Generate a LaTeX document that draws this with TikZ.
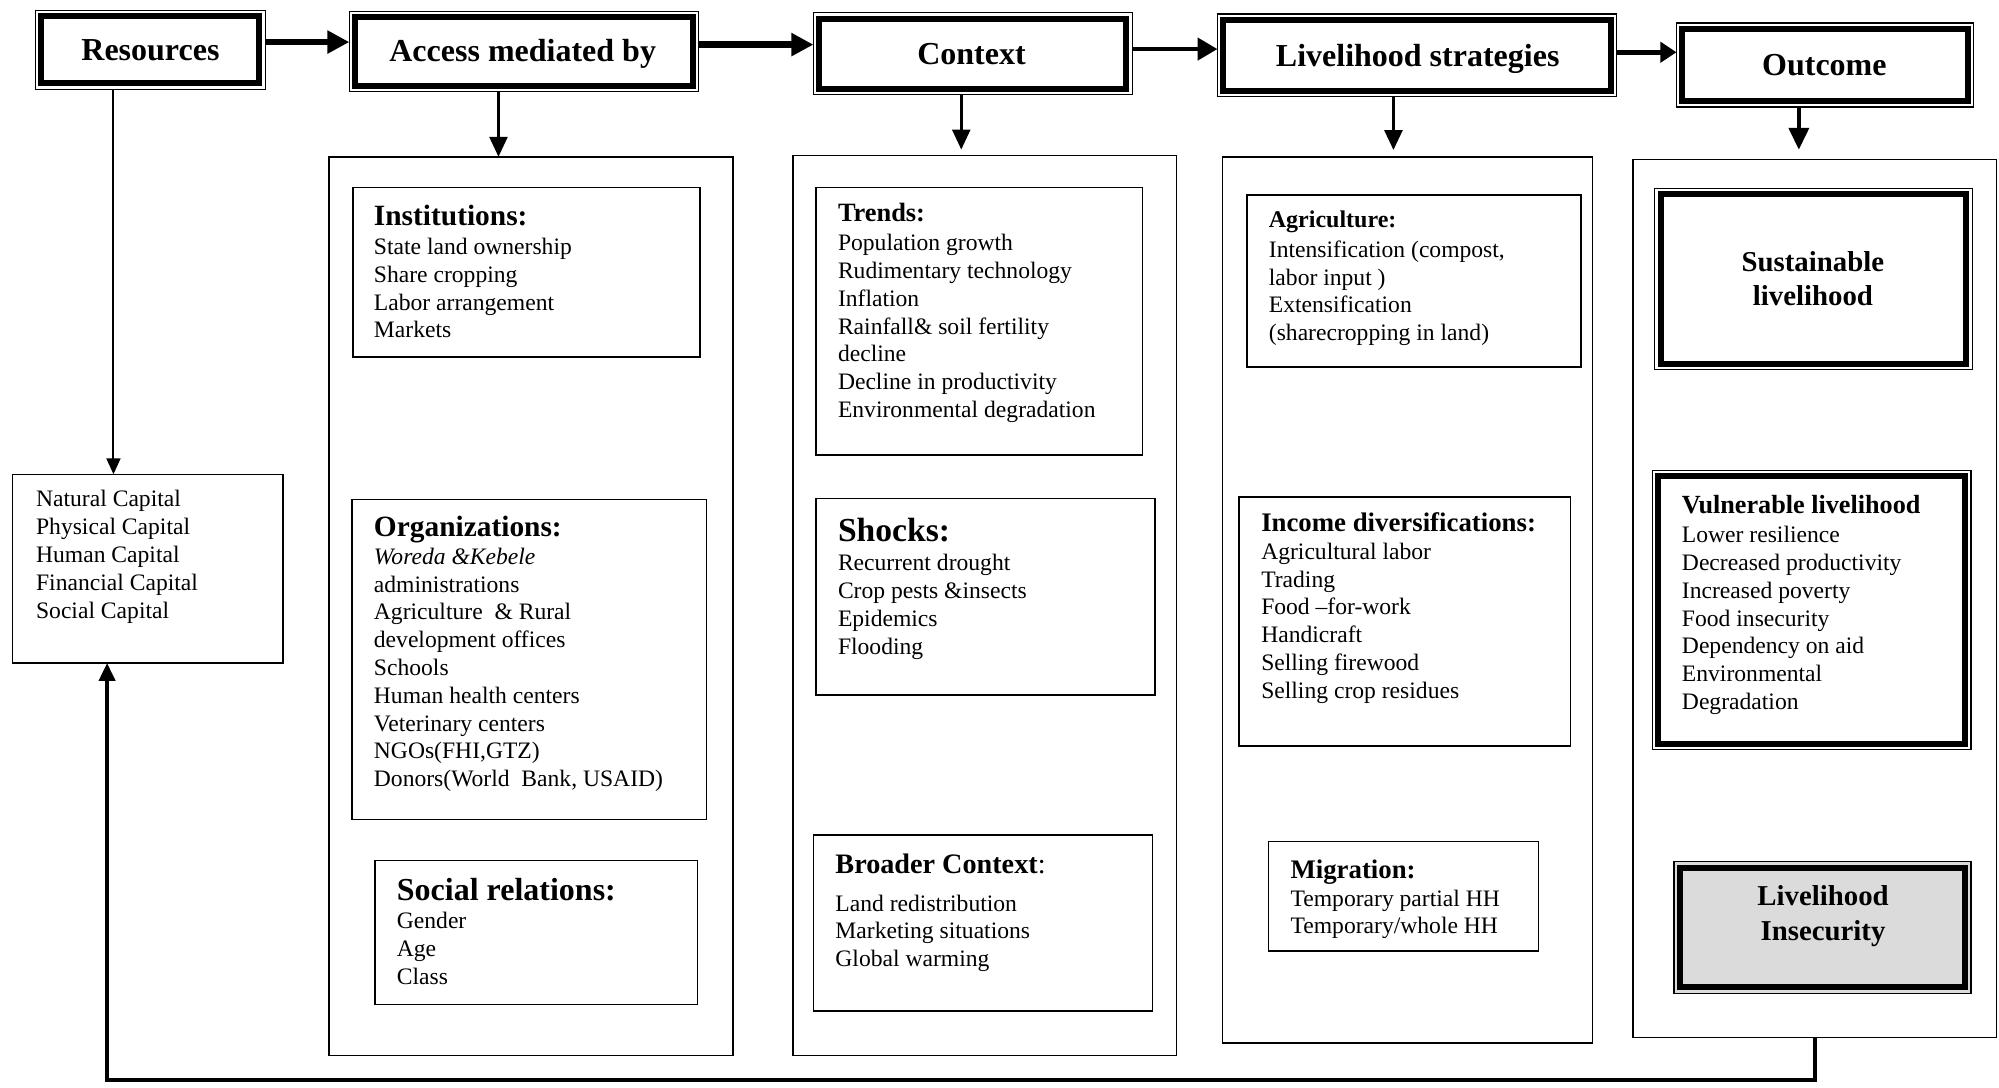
\documentclass[tikz,border=0pt]{standalone}
\usepackage{fontspec}
\setmainfont{Liberation Serif}
\usetikzlibrary{arrows.meta,fit,calc}
\newcommand\bodyfont{\fontsize{11.8}{13.9}\selectfont}
\begin{document}
\begin{tikzpicture}[x=0.63745pt,y=-0.63745pt,
 box/.style={draw, line width=0.7pt, inner sep=0pt, outer sep=0pt},
 dbl/.style={draw, line width=0.6pt, inner sep=0pt, outer sep=0pt,
   path picture={\draw[line width=3pt] ([shift={(2.9pt,-2.9pt)}]path picture bounding box.north west) rectangle ([shift={(-2.9pt,2.9pt)}]path picture bounding box.south east);}},
 hdrtext/.style={anchor=base, inner sep=0pt, font=\fontsize{16}{19}\selectfont\bfseries},
 ttl/.style={anchor=base west, inner sep=0pt, font=\fontsize{#1}{#1}\selectfont\bfseries},
 body/.style={anchor=north west, inner sep=0pt, align=left, font=\bodyfont},
 ctr/.style={inner sep=0pt, align=center, font=\fontsize{14.4}{17.2}\selectfont\bfseries},
 hbig/.style={-{Triangle[length=11pt,width=11pt]}, line width=3.2pt},
 hmid/.style={-{Triangle[length=10pt,width=11pt]}, line width=2.3pt},
 hsm/.style={-{Triangle[length=8pt,width=10pt]}, line width=2.5pt},
 downarr/.style={-{Triangle[length=10pt,width=9pt]}, line width=1.3pt},
 thinarr/.style={-{Triangle[length=8pt,width=7pt]}, line width=1pt},
 fb/.style={-{Triangle[length=9pt,width=8pt]}, line width=2pt, line join=miter}
]
\fill[white] (0,0) rectangle (1568,853);
\useasboundingbox (0,0) rectangle (1568,853);

% header boxes
\node[dbl, fit={(28,8) (208,70)}] (res) {};
\node[dbl, fit={(274,9) (548,72)}] (acc) {};
\node[dbl, fit={(638,10) (888,74)}] (ctx) {};
\node[dbl, fit={(955,11) (1268,76)}] (ls) {};
\node[dbl, fit={(1315,18) (1548,84)}] (out) {};
\node[hdrtext] (resT) at (118,47.5) {Resources};
\node[hdrtext] (accT) at (410,48.5) {Access mediated by};
\node[hdrtext] (ctxT) at (762,50.5) {Context};
\node[hdrtext] (lsT) at (1112,52.5) {Livelihood strategies};
\node[hdrtext] (outT) at (1431,59.5) {Outcome};

% column containers
\node[box, fit={(258,123) (575,828)}] (colA) {};
\node[box, fit={(622,122) (923,828)}] (colC) {};
\node[box, fit={(959,123) (1249,818)}] (colL) {};
\node[box, fit={(1281,125) (1566,814)}] (colO) {};
\node[box, fit={(10,372) (222,520)}] (cap) {};

% inner boxes
\node[box, fit={(277,147) (549,280)}] (inst) {};
\node[box, fit={(276,392) (554,643)}] (org) {};
\node[box, fit={(294,675) (547,788)}] (soc) {};
\node[box, fit={(640,147) (896,357)}] (trend) {};
\node[box, fit={(640,391) (906,545)}] (shock) {};
\node[box, fit={(638,655) (904,793)}] (broad) {};
\node[box, fit={(978,153) (1240,288)}] (agri) {};
\node[box, fit={(972,390) (1232,585)}] (inc) {};
\node[box, fit={(995,660) (1207,746)}] (mig) {};
\node[dbl, fit={(1298,148) (1547,290)}] (sust) {};
\node[dbl, fit={(1296,369) (1546,588)}] (vuln) {};
\node[dbl, fill=black!14, fit={(1313,676) (1546,779)}] (insec) {};

% texts
\node[body] (capT) at (28,384.5) {Natural Capital\\Physical Capital\\Human Capital\\Financial Capital\\Social Capital};

\node[ttl=14.7] (instH) at (293,176.8) {Institutions:};
\node[body] (instT) at (293,186.5) {State land ownership\\Share cropping\\Labor arrangement\\Markets};

\node[ttl=14.7] (orgH) at (293,420.8) {Organizations:};
\node[body] (orgT) at (293,429.5) {\textit{Woreda \&Kebele}\\administrations\\Agriculture\ \ \& Rural\\development offices\\Schools\\Human health centers\\Veterinary centers\\NGOs(FHI,GTZ)\\Donors(World\ \ Bank, USAID)};

\node[ttl=16] (socH) at (311,706.5) {Social relations:};
\node[body] (socT) at (311,715.5) {Gender\\Age\\Class};

\node[ttl=13.2] (trendH) at (657,174) {Trends:};
\node[body] (trendT) at (657,183.5) {Population growth\\Rudimentary technology\\Inflation\\Rainfall\& soil fertility\\decline\\Decline in productivity\\Environmental degradation};

\node[ttl=16.8] (shockH) at (657,424.9) {Shocks:};
\node[body] (shockT) at (657,434.5) {Recurrent drought\\Crop pests \&insects\\Epidemics\\Flooding};

\node[ttl=14.1] (broadH) at (655,685.5) {Broader Context\textmd{:}};
\node[body] (broadT) at (655,701.5) {Land redistribution\\Marketing situations\\Global warming};

\node[ttl=12] (agriH) at (995,178.4) {Agriculture:};
\node[body] (agriT) at (995,188.5) {Intensification (compost,\\labor input )\\Extensification\\(sharecropping in land)};

\node[ttl=13.4] (incH) at (989,417.1) {Income diversifications:};
\node[body] (incT) at (989,425.5) {Agricultural labor\\Trading\\Food –for-work\\Handicraft\\Selling firewood\\Selling crop residues};

\node[ttl=13.4] (migH) at (1012,689.1) {Migration:};
\node[body] (migT) at (1012,697.5) {Temporary partial HH\\Temporary/whole HH};

\node[ctr] (sustT) at (1422,218.5) {Sustainable\\livelihood};

\node[ttl=13.1] (vulnH) at (1319,403) {Vulnerable livelihood};
\node[body] (vulnT) at (1319,412.5) {Lower resilience\\Decreased productivity\\Increased poverty\\Food insecurity\\Dependency on aid\\Environmental\\Degradation};

\node[ctr] (insecT) at (1430,718.5) {Livelihood\\Insecurity};

% helper coordinates
\coordinate (y1) at (0,33);
\coordinate (y2) at (0,35);
\coordinate (y3) at (0,38.5);
\coordinate (y4) at (0,41);
\coordinate (rx) at (89,0);
\coordinate (ax) at (391,0);
\coordinate (cx) at (754,0);
\coordinate (lx) at (1093,0);
\coordinate (ox) at (1411,0);
\coordinate (fbx) at (1424,0);
\coordinate (fby) at (0,847);
\coordinate (capx) at (84,0);

% horizontal header arrows
\draw[hbig] (res.east |- y1) -- (acc.west |- y1);
\draw[hbig] (acc.east |- y2) -- (ctx.west |- y2);
\draw[hmid] (ctx.east |- y3) -- (ls.west |- y3);
\draw[hsm] (ls.east |- y4) -- (out.west |- y4);

% down arrows
\draw[thinarr] (res.south -| rx) -- (cap.north -| rx);
\draw[downarr] (acc.south -| ax) -- (colA.north -| ax);
\draw[downarr, shorten >=3pt] (ctx.south -| cx) -- (colC.north -| cx);
\draw[downarr, line width=1.5pt, shorten >=3.4pt] (ls.south -| lx) -- (colL.north -| lx);
\draw[downarr, line width=2pt, -{Triangle[length=11pt,width=10pt]}, shorten >=4.8pt] (out.south -| ox) -- (colO.north -| ox);

% feedback
\draw[fb] (colO.south -| fbx) -- (fbx |- fby) -- (capx |- fby) -- (cap.south -| capx);
\end{tikzpicture}
\end{document}
